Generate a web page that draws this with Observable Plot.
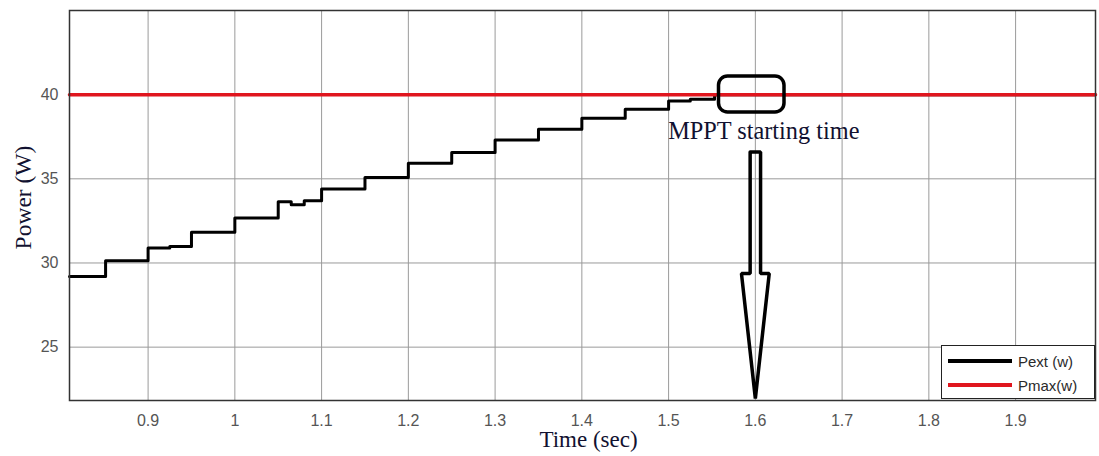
<!DOCTYPE html>
<html>
<head>
<meta charset="utf-8">
<script src="https://cdn.jsdelivr.net/npm/d3@7"></script>
<script src="https://cdn.jsdelivr.net/npm/@observablehq/plot@0.6"></script>
<style>
  html, body { margin: 0; padding: 0; background: #fff; }
  #wrap { position: relative; width: 1099px; height: 456px; }
  #legend { position: absolute; left: 941px; top: 345px; width: 154px; height: 54px;
    border: 1.5px solid #222; background: #fff; font-family: "Liberation Sans", Arial, sans-serif;
    font-size: 15px; color: #2a2a2a; box-sizing: border-box; }
  .row { position: absolute; left: 6px; height: 20px; display: flex; align-items: center; }
  .sw { width: 64px; height: 3.5px; margin-right: 6px; }
</style>
</head>
<body>
<div id="wrap"></div>
<script>
// ---- data ----
const xTicks = [0.9, 1.0, 1.1, 1.2, 1.3, 1.4, 1.5, 1.6, 1.7, 1.8, 1.9];
const xTickLabels = ["0.9", "1", "1.1", "1.2", "1.3", "1.4", "1.5", "1.6", "1.7", "1.8", "1.9"];
const yTicks = [25, 30, 35, 40];
const yTickLabels = ["25", "30", "35", "40"];
const xDomain = [0.8094, 1.9921];
const yDomain = [21.83, 45];

// Pext staircase (step-after): start time of each level, level value
const pextTime  = [0.8094, 0.851, 0.9, 0.925, 0.95, 1.0, 1.05, 1.065, 1.08, 1.1, 1.15, 1.2, 1.25, 1.3, 1.35, 1.4, 1.45, 1.5, 1.525, 1.553, 1.9921];
const pextValue = [29.19, 30.14, 30.89, 30.98, 31.82, 32.67, 33.64, 33.46, 33.70, 34.39, 35.08, 35.93, 36.56, 37.31, 37.95, 38.60, 39.13, 39.63, 39.73, 40.0, 40.0];
// Pmax constant
const pmaxTime  = [0.8094, 1.9921];
const pmaxValue = [40, 40];

// annotation: rounded box, label, hollow down arrow (data coordinates)
const boxX = [1.5581, 1.6336];
const boxY = [38.94, 41.08];
const noteText = "MPPT starting time";
const noteX = 1.4995;
const noteY = 37.81;
const arrowX = [1.594, 1.606, 1.606, 1.6160, 1.6, 1.5840, 1.594, 1.594];
const arrowY = [36.60, 36.60, 29.37, 29.37, 21.95, 29.37, 29.37, 36.60];

const legendLabels = ["Pext (w)", "Pmax(w)"];
const xLabel = "Time (sec)";
const yLabel = "Power (W)";

// ---- build tables ----
const pext = pextTime.map((t, i) => ({t, v: pextValue[i]}));
const pmax = pmaxTime.map((t, i) => ({t, v: pmaxValue[i]}));
const arrow = arrowX.map((x, i) => ({x, y: arrowY[i]}));
const xFmt = new Map(xTicks.map((d, i) => [d, xTickLabels[i]]));
const yFmt = new Map(yTicks.map((d, i) => [d, yTickLabels[i]]));

const serif = "'Liberation Serif', 'Times New Roman', serif";
const textColor = "#111130";

const chart = Plot.plot({
  width: 1099,
  height: 456,
  marginLeft: 69,
  marginRight: 4,
  marginTop: 10,
  marginBottom: 56,
  style: {fontFamily: "'Liberation Sans', Arial, sans-serif", fontSize: "16px", color: "#555", background: "#fff"},
  x: {domain: xDomain, ticks: xTicks, tickFormat: d => xFmt.get(d), tickSize: 0, tickPadding: 14, label: null},
  y: {domain: yDomain, ticks: yTicks, tickFormat: d => yFmt.get(d), tickSize: 0, tickPadding: 11, label: null},
  marks: [
    Plot.gridX(xTicks, {stroke: "#9a9a9a", strokeOpacity: 1, strokeWidth: 1}),
    Plot.gridY(yTicks, {stroke: "#9a9a9a", strokeOpacity: 1, strokeWidth: 1}),
    Plot.line(pext, {x: "t", y: "v", curve: "step-after", stroke: "#000", strokeWidth: 3}),
    Plot.line(pmax, {x: "t", y: "v", stroke: "#e0161e", strokeWidth: 3.5}),
    Plot.frame({stroke: "#333", strokeWidth: 1.5}),
    Plot.rect([0], {x1: () => boxX[0], x2: () => boxX[1], y1: () => boxY[0], y2: () => boxY[1],
      rx: 9, fill: "none", stroke: "#000", strokeWidth: 3.5}),
    Plot.text([noteText], {x: () => noteX, y: () => noteY, text: d => d, textAnchor: "start",
      lineAnchor: "middle", fontFamily: serif, fontSize: 24.3, fill: textColor}),
    Plot.line(arrow, {x: "x", y: "y", stroke: "#000", strokeWidth: 3.5, strokeLinejoin: "miter"}),
    Plot.text([xLabel], {frameAnchor: "bottom", text: d => d, textAnchor: "middle", lineAnchor: "middle",
      dx: 6, dy: 39, fontFamily: serif, fontSize: 23, fill: textColor}),
    Plot.text([yLabel], {frameAnchor: "left", text: d => d, textAnchor: "middle", lineAnchor: "middle",
      rotate: -90, dx: -46, dy: -8, fontFamily: serif, fontSize: 23.5, fill: textColor})
  ]
});

const wrap = document.getElementById("wrap");
wrap.appendChild(chart);

// legend
const legend = document.createElement("div");
legend.id = "legend";
const colors = ["#000", "#e0161e"];
legendLabels.forEach((lab, i) => {
  const row = document.createElement("div");
  row.className = "row";
  row.style.top = (5 + i * 24) + "px";
  const sw = document.createElement("div");
  sw.className = "sw";
  sw.style.background = colors[i];
  const tx = document.createElement("span");
  tx.textContent = lab;
  row.appendChild(sw);
  row.appendChild(tx);
  legend.appendChild(row);
});
wrap.appendChild(legend);
</script>
</body>
</html>
